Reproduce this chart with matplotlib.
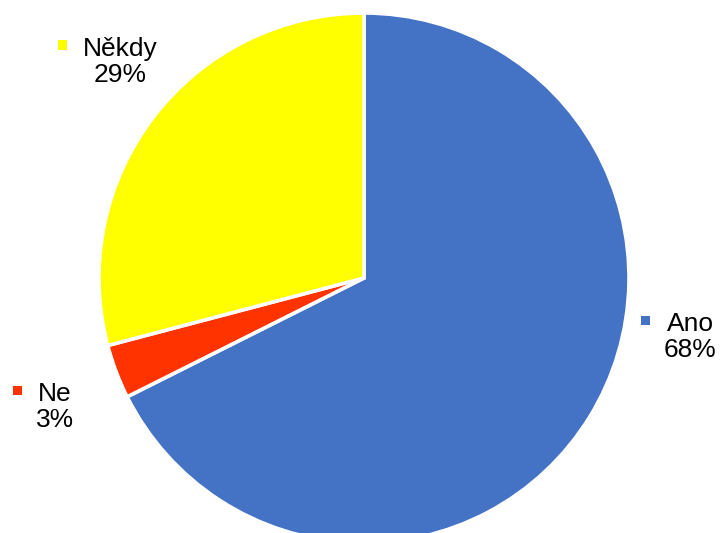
import matplotlib
matplotlib.use("Agg")
import matplotlib.pyplot as plt
from matplotlib.patches import Rectangle

categories = ["Ano", "Ne", "Někdy"]
values = [67.6, 3.3, 29.1]
colors = ["#4472C4", "#FF3300", "#FFFF00"]

# label anchor positions (pixels): text block centre, marker centre
label_pos = {"Ano": (690, 337), "Ne": (55, 407), "Někdy": (120, 62)}
marker_pos = {"Ano": (645, 320), "Ne": (17, 390), "Někdy": (62, 45)}

W, H = 721, 533
fig = plt.figure(figsize=(W / 100, H / 100), dpi=100)
plt.rcParams['font.family'] = ['Liberation Sans', 'DejaVu Sans']

cx, cy, r = 364, 278, 265
ax = fig.add_axes([(cx - r) / W, (H - cy - r) / H, 2 * r / W, 2 * r / H])
ax.pie(values, colors=colors, startangle=90, counterclock=False, radius=1,
       wedgeprops=dict(edgecolor="white", linewidth=2.6))
ax.set_xlim(-1, 1)
ax.set_ylim(-1, 1)
ax.axis("off")

total = sum(values)
for cat, val, col in zip(categories, values, colors):
    tx, ty = label_pos[cat]
    fig.text(tx / W, 1 - ty / H, f"{cat}\n{round(100 * val / total)}%",
             ha="center", va="center", fontsize=19, multialignment="center",
             color="black", linespacing=1.15)
    mx, my = marker_pos[cat]
    s = 9
    fig.add_artist(Rectangle(((mx - s / 2) / W, 1 - (my + s / 2) / H), s / W, s / H,
                             transform=fig.transFigure, facecolor=col, edgecolor="none"))

fig.savefig("out.png", dpi=100, facecolor="white")
